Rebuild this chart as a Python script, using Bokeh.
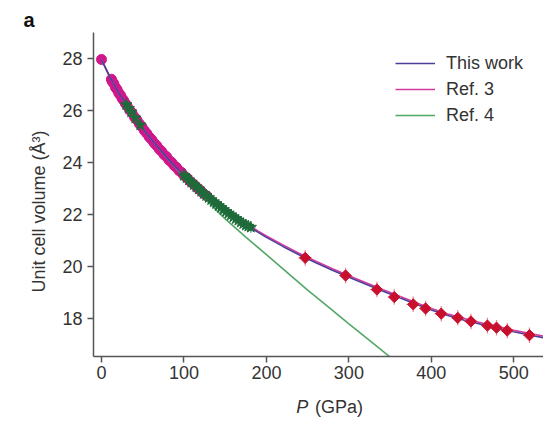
from bokeh.plotting import figure
from bokeh.models import Range1d, Legend, LegendItem, FixedTicker, LinearAxis, Title
from bokeh.embed import file_html
from bokeh.resources import INLINE

# ---------------- data ----------------
x_ticks = [0, 100, 200, 300, 400, 500]
y_ticks = [18, 20, 22, 24, 26, 28]

# fitted equations of state
p_fit = [0, 10, 20, 30, 40, 50, 60, 70, 80, 90, 100, 110, 120, 130, 140, 150,
         160, 170, 180, 190, 200, 220, 240, 260, 280, 300, 320, 340, 360, 380,
         400, 420, 440, 460, 480, 500, 520, 540]
v_this_work = [27.95, 27.30, 26.72, 26.22, 25.75, 25.31, 24.90, 24.52, 24.16, 23.82,
               23.50, 23.20, 22.91, 22.64, 22.38, 22.14, 21.91, 21.70, 21.50, 21.30,
               21.11, 20.76, 20.43, 20.13, 19.84, 19.57, 19.31, 19.05, 18.80, 18.55,
               18.31, 18.10, 17.92, 17.76, 17.61, 17.47, 17.34, 17.22]
v_ref3 = [27.95, 27.30, 26.72, 26.22, 25.75, 25.31, 24.90, 24.52, 24.16, 23.82,
          23.50, 23.20, 22.92, 22.65, 22.40, 22.17, 21.94, 21.74, 21.55, 21.35,
          21.16, 20.82, 20.49, 20.19, 19.90, 19.63, 19.37, 19.11, 18.86, 18.61,
          18.37, 18.16, 17.98, 17.82, 17.67, 17.53, 17.40, 17.28]
p_ref4 = [0, 10, 20, 30, 40, 50, 60, 70, 80, 90, 100, 110, 120, 130, 140, 150,
          175, 200, 225, 250, 275, 300, 325, 350]
v_ref4 = [27.95, 27.30, 26.72, 26.22, 25.75, 25.31, 24.90, 24.51, 24.14, 23.79,
          23.45, 23.11, 22.78, 22.45, 22.13, 21.82, 21.12, 20.44, 19.76, 19.08,
          18.43, 17.78, 17.14, 16.50]

# Ref. 3 data points (magenta circles)
p_ref3_pts = [0, 12, 13, 15, 17, 19, 21, 23, 25, 27, 29, 31, 34, 37, 40, 43, 46, 49,
              52, 55, 58, 61, 64, 67, 70, 73, 76, 79, 82, 85, 88, 91, 94, 97, 100,
              104, 108, 112, 116, 120, 124, 128]
v_ref3_pts = [27.96, 27.20, 27.11, 27.03, 26.88, 26.80, 26.66, 26.59, 26.46, 26.38,
              26.26, 26.18, 26.02, 25.91, 25.74, 25.63, 25.48, 25.37, 25.22, 25.11,
              24.97, 24.87, 24.74, 24.64, 24.51, 24.42, 24.29, 24.21, 24.08, 24.00,
              23.88, 23.80, 23.68, 23.61, 23.49, 23.39, 23.25, 23.15, 23.02, 22.92,
              22.79, 22.70]

# Ref. 4 data points (dark green stars)
p_ref4_pts = [30, 33, 36, 41, 47, 100, 103, 106, 109, 112, 115, 118, 121, 124, 127,
              130, 133, 136, 139, 142, 145, 148, 151, 154, 157, 160, 163, 166, 169,
              172, 175, 178, 181]
v_ref4_pts = [26.22, 26.08, 25.94, 25.71, 25.44, 23.50, 23.41, 23.32, 23.23, 23.14,
              23.06, 22.97, 22.88, 22.80, 22.72, 22.64, 22.56, 22.48, 22.41, 22.33,
              22.26, 22.18, 22.11, 22.04, 21.97, 21.90, 21.83, 21.77, 21.70, 21.64,
              21.58, 21.54, 21.50]

# This work data points (red diamonds)
p_tw_pts = [247, 296, 334, 355, 378, 393, 412, 432, 448, 468, 479, 492, 519]
v_tw_pts = [20.32, 19.64, 19.10, 18.81, 18.53, 18.37, 18.17, 18.01, 17.87, 17.71,
            17.63, 17.52, 17.34]

# ---------------- styles ----------------
C_THIS = "#4e3f9c"
C_REF3 = "#d63a9e"
C_REF4 = "#52a866"
C_MAG_PTS = "#d1168c"
C_GRN_PTS = "#1f6b3a"
C_RED_PTS = "#c8102e"
C_RED_ERR = "#f0808c"
TXT = "#333333"
AX = "#555555"
FONT = "Liberation Sans"

p = figure(width=543, height=421, output_backend="svg", toolbar_location=None,
           x_range=Range1d(-9.7, 536), y_range=Range1d(16.52, 29.0),
           min_border_left=93, min_border_right=0, min_border_top=32,
           min_border_bottom=65)
p.outline_line_color = None
p.grid.visible = False
p.background_fill_color = "white"

# panel letter as title
p.title.text = "a"
p.title.text_font = FONT
p.title.text_font_size = "20px"
p.title.text_font_style = "bold"
p.title.text_color = "#111111"
p.title.align = "left"
p.title.offset = -70
p.title.standoff = 4

for ax in (p.xaxis[0], p.yaxis[0]):
    ax.axis_line_color = AX
    ax.axis_line_width = 1.5
    ax.major_tick_line_color = AX
    ax.major_tick_line_width = 1.5
    ax.major_tick_out = 6
    ax.major_tick_in = 0
    ax.minor_tick_line_color = None
    ax.major_label_text_font = FONT
    ax.major_label_text_font_size = "18px"
    ax.major_label_text_color = TXT
p.xaxis.ticker = FixedTicker(ticks=x_ticks)
p.yaxis.ticker = FixedTicker(ticks=y_ticks)
p.xaxis.major_label_standoff = 3
p.yaxis.major_label_standoff = 5

# y-axis title as a side title (allows shifting along the axis)
p.add_layout(Title(text="Unit cell volume (Å³)", align="left", offset=64,
                   standoff=22, text_font=FONT, text_font_size="18px",
                   text_font_style="normal", text_color=TXT), "left")

# x-axis title "P (GPa)" with italic P: two tick-label-only axes
XLAB_P_AT = 243.5
XLAB_U_AT = 288.0
ax_p = LinearAxis(ticker=FixedTicker(ticks=[XLAB_P_AT]),
                  major_label_overrides={XLAB_P_AT: "P"},
                  axis_line_color=None, major_tick_line_color=None,
                  minor_tick_line_color=None, major_tick_out=0, major_tick_in=0,
                  major_label_standoff=15, major_label_text_font=FONT,
                  major_label_text_font_size="18px", major_label_text_color=TXT,
                  major_label_text_font_style="italic")
ax_u = LinearAxis(ticker=FixedTicker(ticks=[XLAB_U_AT]),
                  major_label_overrides={XLAB_U_AT: "(GPa)"},
                  axis_line_color=None, major_tick_line_color=None,
                  minor_tick_line_color=None, major_tick_out=0, major_tick_in=0,
                  major_label_standoff=-23, major_label_text_font=FONT,
                  major_label_text_font_size="18px", major_label_text_color=TXT)
p.add_layout(ax_p, "below")
p.add_layout(ax_u, "below")

# data points, error bars and curves
p.scatter(p_ref3_pts, v_ref3_pts, marker="circle", size=10, fill_color=C_MAG_PTS,
          line_color=C_MAG_PTS)

r4 = p.line(p_ref4, v_ref4, line_color=C_REF4, line_width=1.6)
r3 = p.line(p_fit, v_ref3, line_color=C_REF3, line_width=1.6)
rt = p.line(p_fit, v_this_work, line_color=C_THIS, line_width=1.6)

gerr_v = 0.22
gerr_p = 6
p.segment(p_ref4_pts, [v - gerr_v for v in v_ref4_pts],
          p_ref4_pts, [v + gerr_v for v in v_ref4_pts],
          line_color=C_GRN_PTS, line_width=1, line_alpha=0.75)
p.segment([x - gerr_p for x in p_ref4_pts], v_ref4_pts,
          [x + gerr_p for x in p_ref4_pts], v_ref4_pts,
          line_color=C_GRN_PTS, line_width=1, line_alpha=0.75)
p.scatter(p_ref4_pts, v_ref4_pts, marker="star", size=12, fill_color=C_GRN_PTS,
          line_color=C_GRN_PTS)

rerr_v = 0.3
rerr_p = 8
p.segment(p_tw_pts, [v - rerr_v for v in v_tw_pts], p_tw_pts,
          [v + rerr_v for v in v_tw_pts], line_color=C_RED_ERR, line_width=1.2)
p.segment([x - rerr_p for x in p_tw_pts], v_tw_pts, [x + rerr_p for x in p_tw_pts],
          v_tw_pts, line_color=C_RED_ERR, line_width=1.2)
p.scatter(p_tw_pts, v_tw_pts, marker="square", size=8, angle=0.7853982,
          fill_color=C_RED_PTS, line_color=C_RED_PTS)

legend = Legend(items=[LegendItem(label="This work", renderers=[rt]),
                       LegendItem(label="Ref. 3", renderers=[r3]),
                       LegendItem(label="Ref. 4", renderers=[r4])],
                location=(302, 228), padding=0, margin=0, spacing=0,
                glyph_width=40, glyph_height=26, label_height=26,
                label_standoff=11, border_line_color=None,
                background_fill_alpha=0, label_text_font=FONT,
                label_text_font_size="18px", label_text_color=TXT)
p.add_layout(legend)

open("out.html", "w").write(file_html(p, INLINE))
